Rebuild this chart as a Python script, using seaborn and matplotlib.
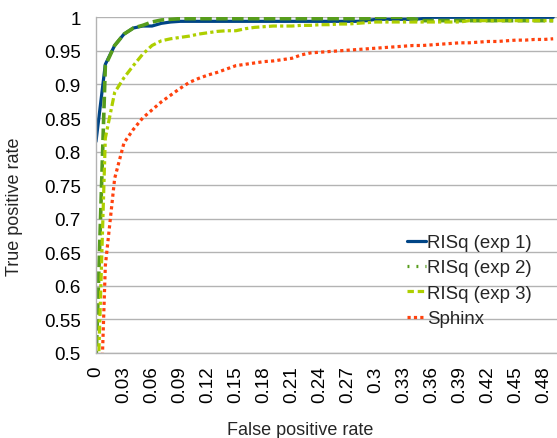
import matplotlib
matplotlib.use("Agg")
import matplotlib.pyplot as plt
from matplotlib.lines import Line2D
import seaborn as sns
import pandas as pd
import numpy as np

# False positive rate sample points
fpr = [0.00, 0.01, 0.02, 0.03, 0.04, 0.05, 0.06, 0.07, 0.08, 0.09,
       0.10, 0.11, 0.12, 0.13, 0.14, 0.15, 0.16, 0.17, 0.18, 0.19,
       0.20, 0.21, 0.22, 0.23, 0.24, 0.25, 0.26, 0.27, 0.28, 0.29,
       0.30, 0.31, 0.32, 0.33, 0.34, 0.35, 0.36, 0.37, 0.38, 0.39,
       0.40, 0.41, 0.42, 0.43, 0.44, 0.45, 0.46, 0.47, 0.48, 0.49]

risq_exp1 = [0.815, 0.930, 0.958, 0.975, 0.984, 0.987, 0.987, 0.991, 0.993, 0.994,
             0.994, 0.994, 0.994, 0.994, 0.994, 0.994, 0.994, 0.994, 0.994, 0.994,
             0.994, 0.994, 0.994, 0.994, 0.994, 0.994, 0.994, 0.994, 0.994, 0.995,
             0.997, 0.997, 0.997, 0.997, 0.997, 0.998, 1.000, 1.000, 1.000, 1.000,
             1.000, 1.000, 1.000, 1.000, 1.000, 1.000, 1.000, 1.000, 1.000, 1.000]

risq_exp2 = [0.486, 0.928, 0.958, 0.975, 0.984, 0.988, 0.993, 0.996, 0.997, 0.998,
             0.998, 0.998, 0.998, 0.998, 0.998, 0.998, 0.998, 0.998, 0.998, 0.998,
             0.998, 0.998, 0.998, 0.998, 0.998, 0.998, 0.998, 0.998, 0.998, 0.998,
             1.000, 1.000, 1.000, 1.000, 0.998, 0.995, 0.995, 0.995, 0.995, 0.995,
             0.995, 0.995, 0.995, 0.995, 0.995, 0.995, 0.995, 0.995, 0.995, 0.995]

risq_exp3 = [0.360, 0.820, 0.888, 0.910, 0.928, 0.945, 0.958, 0.965, 0.968, 0.970,
             0.972, 0.975, 0.977, 0.979, 0.980, 0.980, 0.983, 0.985, 0.986, 0.987,
             0.987, 0.987, 0.988, 0.988, 0.989, 0.989, 0.990, 0.990, 0.991, 0.992,
             0.993, 0.993, 0.993, 0.993, 0.993, 0.993, 0.993, 0.993, 0.993, 0.993,
             0.995, 0.995, 0.995, 0.995, 0.995, 0.995, 0.995, 0.995, 0.995, 0.995]

sphinx = [0.200, 0.630, 0.760, 0.813, 0.833, 0.850, 0.862, 0.874, 0.884, 0.894,
          0.903, 0.909, 0.914, 0.918, 0.923, 0.928, 0.930, 0.932, 0.934, 0.935,
          0.937, 0.939, 0.944, 0.947, 0.948, 0.949, 0.950, 0.951, 0.952, 0.953,
          0.954, 0.955, 0.956, 0.957, 0.958, 0.958, 0.959, 0.960, 0.961, 0.962,
          0.962, 0.963, 0.964, 0.964, 0.965, 0.966, 0.966, 0.967, 0.967, 0.968]

series_names = ["RISq (exp 1)", "RISq (exp 2)", "RISq (exp 3)", "Sphinx"]
series_values = [risq_exp1, risq_exp2, risq_exp3, sphinx]

x_tick_values = [0.00, 0.03, 0.06, 0.09, 0.12, 0.15, 0.18, 0.21, 0.24, 0.27,
                 0.30, 0.33, 0.36, 0.39, 0.42, 0.45, 0.48]
x_tick_labels = ["0", "0.03", "0.06", "0.09", "0.12", "0.15", "0.18", "0.21", "0.24",
                 "0.27", "0.3", "0.33", "0.36", "0.39", "0.42", "0.45", "0.48"]
y_tick_values = [0.5, 0.55, 0.6, 0.65, 0.7, 0.75, 0.8, 0.85, 0.9, 0.95, 1.0]
y_tick_labels = ["0.5", "0.55", "0.6", "0.65", "0.7", "0.75", "0.8", "0.85", "0.9", "0.95", "1"]

colors = ["#004586", "#579d1c", "#aecf00", "#ff420e"]
line_styles = ["-", (0, (3.2, 1.2)), (0, (2.5, 1.0, 1.0, 1.0)), (0, (1, 1))]
line_widths = [2.3, 2.6, 2.3, 2.3]

sns.set_style("white")
plt.rcParams["font.family"] = ["Liberation Sans", "DejaVu Sans"]

W, H = 557, 439
fig = plt.figure(figsize=(W / 100, H / 100), dpi=100)
ax_left, ax_right, ax_top, ax_bottom = 96, 557, 18.3, 354
ax = fig.add_axes([ax_left / W, 1 - ax_bottom / H, (ax_right - ax_left) / W, (ax_bottom - ax_top) / H])

df = pd.DataFrame({"fpr": fpr})
for name, vals, c, ls, lw in zip(series_names, series_values, colors, line_styles, line_widths):
    df[name] = vals
    sns.lineplot(data=df, x="fpr", y=name, ax=ax, color=c, linestyle=ls,
                 linewidth=lw, label=name, legend=False)

ax.set_xlim(0, (ax_right - ax_left) / 933.0)
ax.set_ylim(0.5, 1.0)

ax.set_yticks(y_tick_values)
ax.set_yticklabels(y_tick_labels, fontsize=13.6)
ax.set_xticks(x_tick_values)
ax.set_xticklabels(x_tick_labels, fontsize=13.6, rotation=90)
ax.set_xticks(fpr, minor=True)

ax.tick_params(axis="y", which="major", direction="out", length=8, width=1,
               color="#b3b3b3", pad=3, labelcolor="#000000")
ax.tick_params(axis="x", which="both", direction="out", length=6, width=1,
               color="#b3b3b3", pad=3, labelcolor="#000000")

ax.yaxis.grid(True, color="#b3b3b3", linewidth=1)
ax.xaxis.grid(False)
ax.set_axisbelow(True)
for side in ["top", "right"]:
    ax.spines[side].set_visible(False)
for side in ["left", "bottom"]:
    ax.spines[side].set_color("#b3b3b3")
    ax.spines[side].set_linewidth(1)

ax.set_xlabel("")
ax.set_ylabel("")
fig.text(300 / W, 1 - 431 / H, "False positive rate", fontsize=13, ha="center", va="center")
fig.text(15 / W, 1 - 206.7 / H, "True positive rate", fontsize=13, ha="center", va="center",
         rotation=90)

legend_styles = ["-", (0, (0.6, 2.2)), (0, (2.0, 1.2)), (0, (1, 1))]
handles = [Line2D([0], [0], color=c, linestyle=ls, linewidth=2.3)
           for c, ls in zip(colors, legend_styles)]
leg = fig.legend(handles, series_names, loc="upper left",
                 bbox_to_anchor=(407 / W, 1 - 235 / H), frameon=False, fontsize=13.4,
                 handlelength=1.0, handletextpad=0.1, labelspacing=0.45,
                 borderaxespad=0, borderpad=0)

fig.savefig("out.png", dpi=100)
